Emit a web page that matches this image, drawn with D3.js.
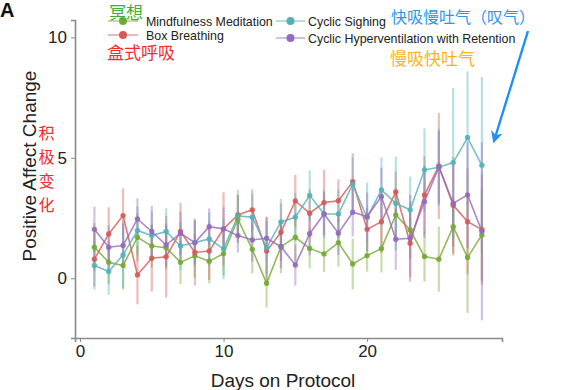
<!DOCTYPE html>
<html>
<head>
<meta charset="utf-8">
<script src="https://cdn.jsdelivr.net/npm/d3@7"></script>
<style>
  html, body { margin: 0; padding: 0; background: #fff; }
  svg { display: block; }
</style>
</head>
<body>
<svg id="chart" width="564" height="390"></svg>
<script>
// ---- data ----
const days = d3.range(1, 29);
const seriesNames = ["Mindfulness Meditation", "Box Breathing", "Cyclic Sighing", "Cyclic Hyperventilation with Retention"];
const mindfulness = [1.29,0.66,0.53,1.70,1.34,1.27,0.66,0.93,0.71,1.02,2.45,1.20,-0.21,1.31,1.70,1.24,1.01,1.48,0.59,0.94,1.24,2.63,2.00,0.90,0.79,2.14,0.86,1.80];
const mindfulnessSE = [1.0,0.9,1.0,1.0,0.9,0.9,0.9,0.9,0.92,0.9,1.0,1.0,1.0,1.1,1.0,0.83,0.75,1.0,1.05,0.66,1.0,1.1,1.2,1.04,1.35,1.2,2.3,1.9];
const boxBreathing = [0.79,1.84,2.60,0.14,0.83,0.89,1.94,1.07,1.13,2.05,2.63,2.84,1.13,1.91,3.21,2.70,3.14,3.22,4.01,2.03,2.35,3.58,1.45,3.46,4.66,3.03,2.35,2.02];
const boxBreathingSE = [1.14,1.11,1.13,1.22,1.38,1.69,1.2,1.37,1.2,1.52,0.83,0.85,1.4,1.2,1.08,1.0,1.36,0.88,1.18,0.9,1.3,0.85,1.4,1.6,2.2,2.0,2.2,2.28];
const cyclicSighing = [0.53,0.28,0.97,1.98,1.77,1.94,1.34,1.48,1.63,1.22,2.59,2.53,1.27,2.34,2.53,3.44,2.67,2.67,3.90,2.52,3.67,3.11,2.84,4.50,4.61,4.80,5.84,4.69];
const cyclicSighingSE = [1.0,0.97,1.38,1.0,1.0,0.96,1.0,1.0,1.1,1.26,1.08,1.0,1.1,0.95,1.0,1.03,1.0,1.0,1.1,1.45,1.35,1.94,1.38,1.72,1.6,3.1,2.75,3.66];
const cyclicHyper = [2.03,1.29,1.36,2.46,1.94,1.38,1.87,1.48,2.14,2.05,1.77,1.59,1.66,1.31,0.55,1.85,2.67,1.87,2.74,2.56,3.39,1.62,1.66,3.18,4.61,3.11,3.46,1.95];
const cyclicHyperSE = [0.94,0.9,0.9,0.86,1.06,0.9,0.9,0.9,0.76,0.9,0.7,0.9,0.9,0.9,0.85,0.9,0.9,0.9,1.0,1.0,1.2,1.27,1.8,1.5,1.5,1.8,2.2,3.7];
const xTicks = [0, 10, 20];
const yTicks = [0, 5, 10];

const colors = ["#76A934", "#D35A58", "#52B2B8", "#9569BC"];
const series = [
  {name: seriesNames[0], vals: mindfulness, se: mindfulnessSE, color: colors[0]},
  {name: seriesNames[1], vals: boxBreathing, se: boxBreathingSE, color: colors[1]},
  {name: seriesNames[2], vals: cyclicSighing, se: cyclicSighingSE, color: colors[2]},
  {name: seriesNames[3], vals: cyclicHyper, se: cyclicHyperSE, color: colors[3]}
];

// ---- layout ----
const svg = d3.select("#chart");
const x = d3.scaleLinear().domain([-0.35, 29.4]).range([75, 502]);
const y = d3.scaleLinear().domain([-2.48, 10.72]).range([338, 20]);
const latin = "Liberation Sans, Arial, sans-serif";

// axes
const xAxis = svg.append("g").attr("transform", "translate(0,338)")
  .call(d3.axisBottom(x).tickValues(xTicks).tickSize(4).tickPadding(3));
const yAxis = svg.append("g").attr("transform", "translate(75,0)")
  .call(d3.axisLeft(y).tickValues(yTicks).tickSize(4).tickPadding(4));
[xAxis, yAxis].forEach(g => {
  g.select(".domain").attr("stroke", "#8a8a8a").attr("stroke-width", 1.6);
  g.selectAll(".tick line").attr("stroke", "#8a8a8a").attr("stroke-width", 1);
  g.selectAll(".tick text").attr("fill", "#222").style("font-family", latin).style("font-size", "17px");
});

// error bars
const plot = svg.append("g");
series.forEach(s => {
  plot.append("g").selectAll("line").data(days).join("line")
    .attr("x1", d => x(d)).attr("x2", d => x(d))
    .attr("y1", (d, i) => y(s.vals[i] + s.se[i]))
    .attr("y2", (d, i) => y(s.vals[i] - s.se[i]))
    .attr("stroke", s.color).attr("stroke-width", 2.2).attr("opacity", 0.4);
});
// lines
series.forEach(s => {
  const line = d3.line().x(d => x(d)).y((d, i) => y(s.vals[i]));
  plot.append("path").datum(days).attr("d", line)
    .attr("fill", "none").attr("stroke", s.color).attr("stroke-width", 1.6).attr("opacity", 0.8);
});
// points
series.forEach(s => {
  plot.append("g").selectAll("circle").data(days).join("circle")
    .attr("cx", d => x(d)).attr("cy", (d, i) => y(s.vals[i]))
    .attr("r", 2.7).attr("fill", s.color).attr("opacity", 0.9);
});

// legend
const legPos = [
  {lx: 108, tx: 146, y: 21},
  {lx: 108, tx: 146, y: 35},
  {lx: 276, tx: 308, y: 21},
  {lx: 276, tx: 308, y: 38}
];
series.forEach((s, i) => {
  const p = legPos[i];
  const w = i < 2 ? 30 : 29;
  svg.append("line").attr("x1", p.lx).attr("x2", p.lx + w).attr("y1", p.y).attr("y2", p.y)
    .attr("stroke", s.color).attr("stroke-width", 1.4).attr("opacity", 0.6);
  svg.append("circle").attr("cx", p.lx + w / 2).attr("cy", p.y).attr("r", 4).attr("fill", s.color);
  svg.append("text").attr("x", p.tx).attr("y", p.y + 4.5).text(s.name)
    .attr("fill", "#222").style("font-family", latin).style("font-size", "12.4px");
});

// titles
svg.append("text").attr("x", 0).attr("y", 17).text("A")
  .style("font-family", latin).style("font-size", "20px").style("font-weight", "bold").attr("fill", "#111");
svg.append("text").attr("transform", "translate(36,166) rotate(-90)").attr("text-anchor", "middle")
  .text("Positive Affect Change").attr("fill", "#222")
  .style("font-family", latin).style("font-size", "19px");
svg.append("text").attr("x", 283).attr("y", 387).attr("text-anchor", "middle")
  .text("Days on Protocol").attr("fill", "#222")
  .style("font-family", latin).style("font-size", "19px");

// Chinese annotations
const cjk = "Noto Sans CJK SC, sans-serif";
svg.append("text").attr("x", 109).attr("y", 19).text("冥想").attr("fill", "#3cb034")
  .style("font-family", cjk).style("font-size", "17px");
svg.append("text").attr("x", 107).attr("y", 59).text("盒式呼吸").attr("fill", "#f52a2a")
  .style("font-family", cjk).style("font-size", "17px");
svg.append("text").attr("x", 391).attr("y", 23).text("快吸慢吐气（叹气）").attr("fill", "#2a95f0")
  .style("font-family", cjk).style("font-size", "16px");
svg.append("text").attr("x", 390).attr("y", 65).text("慢吸快吐气").attr("fill", "#fbb416")
  .style("font-family", cjk).style("font-size", "17px");
["积", "极", "变", "化"].forEach((c, i) => {
  svg.append("text").attr("x", 46.5).attr("y", 139 + i * 24).attr("text-anchor", "middle").text(c)
    .attr("fill", "#f52a2a").style("font-family", cjk).style("font-size", "16px");
});

// arrow
const defs = svg.append("defs");
defs.append("marker").attr("id", "ah").attr("viewBox", "0 0 10 10").attr("refX", 8).attr("refY", 5)
  .attr("markerWidth", 5).attr("markerHeight", 5).attr("orient", "auto")
  .append("path").attr("d", "M0,0 L10,5 L0,10 L3,5 Z").attr("fill", "#1e8ff5");
svg.append("line").attr("x1", 528).attr("y1", 31).attr("x2", 494).attr("y2", 141)
  .attr("stroke", "#1e8ff5").attr("stroke-width", 2.4).attr("marker-end", "url(#ah)");
</script>
</body>
</html>
